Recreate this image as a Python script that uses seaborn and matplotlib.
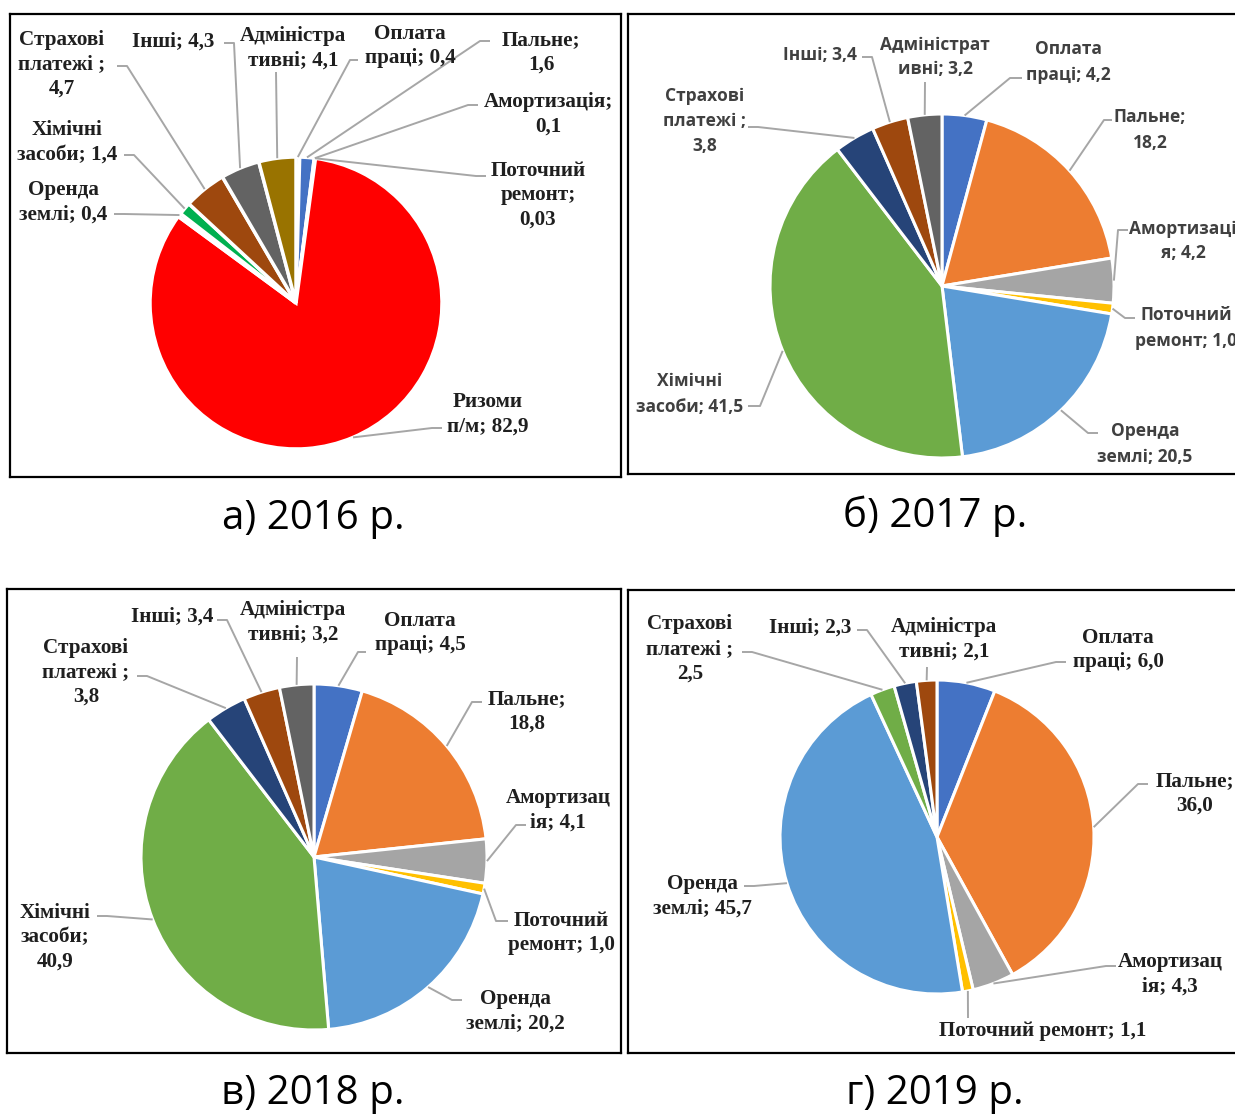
import matplotlib
matplotlib.use("Agg")
import matplotlib.pyplot as plt
import seaborn as sns
import numpy as np

# ---- data ----
names_2016 = ["Оплата\nпраці; {}", "Пальне;\n{}", "Амортизація;\n{}", "Поточний\nремонт;\n{}",
              "Ризоми\nп/м; {}", "Оренда\nземлі; {}", "Хімічні\nзасоби; {}",
              "Страхові\nплатежі ;\n{}", "Інші; {}", "Адміністра\nтивні; {}"]
values_2016 = [0.4, 1.6, 0.1, 0.03, 82.9, 0.4, 1.4, 4.7, 4.3, 4.1]
colors_2016 = ["#4472C4", "#4472C4", "#A5A5A5", "#FFC000", "#FF0000",
               "#5B9BD5", "#00B050", "#9E480E", "#636363", "#997300"]

names_2017 = ["Оплата\nпраці; {}", "Пальне;\n{}", "Амортизаці\nя; {}", "Поточний\nремонт; {}",
              "Оренда\nземлі; {}", "Хімічні\nзасоби; {}", "Страхові\nплатежі ;\n{}",
              "Інші; {}", "Адміністрат\nивні; {}"]
values_2017 = [4.2, 18.2, 4.2, 1.0, 20.5, 41.5, 3.8, 3.4, 3.2]

names_2018 = ["Оплата\nпраці; {}", "Пальне;\n{}", "Амортизац\nія; {}", "Поточний\nремонт; {}",
              "Оренда\nземлі; {}", "Хімічні\nзасоби;\n{}", "Страхові\nплатежі ;\n{}",
              "Інші; {}", "Адміністра\nтивні; {}"]
values_2018 = [4.5, 18.8, 4.1, 1.0, 20.2, 40.9, 3.8, 3.4, 3.2]

names_2019 = ["Оплата\nпраці; {}", "Пальне;\n{}", "Амортизац\nія; {}", "Поточний ремонт; {}",
              "Оренда\nземлі; {}", "Страхові\nплатежі ;\n{}", "Інші; {}", "Адміністра\nтивні; {}"]
values_2019 = [6.0, 36.0, 4.3, 1.1, 45.7, 2.5, 2.3, 2.1]

excel = ["#4472C4", "#ED7D31", "#A5A5A5", "#FFC000", "#5B9BD5",
         "#70AD47", "#264478", "#9E480E", "#636363"]
colors_2017 = excel
colors_2018 = excel
colors_2019 = excel[:5] + ["#70AD47", "#264478", "#9E480E"]

captions = ["а) 2016 р.", "б) 2017 р.", "в) 2018 р.", "г) 2019 р."]

# ---- layout (pixels of the 1235x1115 image) ----
W, H = 1235, 1115
# label centre (tx, ty), end of leader at the label (ex, ey), horizontal stub
lay_2016 = [(410, 46, 358, 60, -8), (541, 52, 490, 41, -10), (548, 114, 478, 105, -10),
            (538, 195, 486, 176, -10), (488, 414, 442, 428, -10), (63, 202, 114, 214, 10),
            (67, 142, 124, 155, 10), (62, 64, 117, 66, 10), (173, 42, 224, 43, 10),
            (293, 48, 276, 72, 0)]
lay_2017 = [(1068, 62, 1022, 78, -12), (1150, 130, 1112, 120, -8), (1183, 241, 1128, 230, -10),
            (1186, 328, 1135, 318, -10), (1145, 444, 1098, 433, -10), (690, 394, 748, 406, 12),
            (705, 121, 748, 127, 10), (820, 55, 862, 57, 10), (935, 57, 925, 82, 0)]
lay_2018 = [(420, 633, 366, 652, -8), (527, 711, 482, 702, -10), (558, 810, 526, 825, -10),
            (561, 933, 508, 921, -12), (515, 1011, 462, 1000, -10), (55, 937, 97, 916, 10),
            (86, 672, 137, 676, 10), (172, 617, 217, 620, 10), (293, 622, 297, 657, 0)]
lay_2019 = [(1118, 650, 1066, 662, -10), (1195, 793, 1148, 784, -10), (1170, 974, 1116, 966, -10),
            (1043, 1031, 968, 1018, 0), (702, 896, 744, 886, 10), (690, 649, 742, 652, 10),
            (810, 628, 857, 630, 10), (944, 639, 927, 667, 0)]

sns.set_style("white")
serif = ["Liberation Serif", "DejaVu Serif"]
sans = ["Open Sans", "DejaVu Sans"]
plt.rcParams["font.family"] = sans


def fmt(v):
    s = f"{v:.2f}" if v < 0.1 else f"{v:.1f}"
    return s.replace(".", ",")


fig = plt.figure(figsize=(W / 100, H / 100), dpi=100)


def panel(box, center, radius, values, names, colors, layout, family, fsize, tcolor, lsp,
          edge_w, caption, cap_xy):
    x0, y0, x1, y1 = box
    ax = fig.add_axes([x0 / W, 1 - y1 / H, (x1 - x0) / W, (y1 - y0) / H])
    cx, cy = center[0], H - center[1]
    wedges, _ = ax.pie(values, colors=colors, startangle=90, counterclock=False,
                       center=(cx, cy), radius=radius, frame=True,
                       wedgeprops=dict(edgecolor="white", linewidth=edge_w))
    ax.set_xlim(x0, x1)
    ax.set_ylim(H - y1, H - y0)
    ax.set_xticks([])
    ax.set_yticks([])
    for sp in ax.spines.values():
        sp.set_color("black")
        sp.set_linewidth(1.6)
        sp.set_visible(True)
    for w, v, name, (tx, ty, ex, ey, stub) in zip(wedges, values, names, layout):
        mid = np.deg2rad((w.theta1 + w.theta2) / 2)
        px, py = cx + radius * np.cos(mid), cy + radius * np.sin(mid)
        ax.plot([px, ex + stub, ex], [py, H - ey, H - ey], color="#A6A6A6", lw=1.4,
                solid_capstyle="butt", zorder=3)
        ax.text(tx, H - ty, name.format(fmt(v)), ha="center", va="center",
                multialignment="center", family=family, fontweight="bold",
                fontsize=fsize, color=tcolor, linespacing=lsp, zorder=4)
    fig.text(cap_xy[0] / W, 1 - cap_xy[1] / H, caption, ha="center", va="center",
             family=sans, fontsize=29, color="black")


panel((10, 14, 621, 477), (296, 303), 146, values_2016, names_2016, colors_2016, lay_2016,
      serif, 15.2, "#1F1F1F", 1.3, 2.5, captions[0], (313, 519))
panel((628, 14, 1240, 474), (942, 286), 172, values_2017, names_2017, colors_2017, lay_2017,
      sans, 12.5, "#404040", 1.5, 2.2, captions[1], (935, 516))
panel((7, 589, 621, 1053), (314, 857), 173, values_2018, names_2018, colors_2018, lay_2018,
      serif, 15.2, "#1F1F1F", 1.3, 2.2, captions[2], (313, 1094))
panel((628, 590, 1240, 1053), (937, 837), 157, values_2019, names_2019, colors_2019, lay_2019,
      serif, 15.2, "#1F1F1F", 1.3, 2.2, captions[3], (935, 1094))

fig.savefig("out.png", dpi=100)
